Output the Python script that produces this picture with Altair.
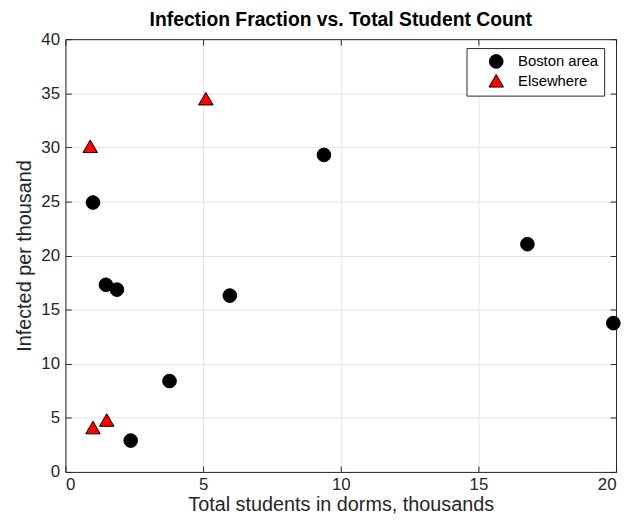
import altair as alt
import pandas as pd

boston_x = [1.0, 1.47, 1.87, 2.37, 3.78, 5.97, 9.39, 16.78, 19.9]
boston_y = [24.9, 17.3, 16.85, 2.9, 8.4, 16.3, 29.3, 21.05, 13.75]
else_x = [0.9, 5.1, 1.0, 1.5]
else_y = [30.1, 34.5, 4.1, 4.8]
groups = ["Boston area", "Elsewhere"]
x_ticks = [0, 5, 10, 15, 20]
y_ticks = [0, 5, 10, 15, 20, 25, 30, 35, 40]

df = pd.DataFrame({
    "x": boston_x + else_x,
    "y": boston_y + else_y,
    "g": [groups[0]] * len(boston_x) + [groups[1]] * len(else_x),
})

FONT = "Liberation Sans"
AX = "#262626"
xs = alt.Scale(domain=[0, 20], nice=False, zero=False)
ys = alt.Scale(domain=[0, 40], nice=False, zero=False)


def tick_axis(orient, vals, offset, ticks, domain):
    return alt.Axis(orient=orient, offset=offset, labels=False, grid=False, domain=domain,
                    domainColor=AX, ticks=ticks, tickSize=6, tickColor=AX, title=None,
                    values=vals)


main = alt.Chart(df).mark_point(filled=True, opacity=1, stroke="black", strokeWidth=1).encode(
    x=alt.X("x:Q", scale=xs, axis=alt.Axis(values=x_ticks, title="Total students in dorms, thousands",
                                           grid=True, ticks=False, domain=True, domainColor=AX,
                                           labelPadding=5, titlePadding=2)),
    y=alt.Y("y:Q", scale=ys, axis=alt.Axis(values=y_ticks, title="Infected per thousand",
                                           grid=True, ticks=False, domain=True, domainColor=AX,
                                           labelPadding=6, titlePadding=6)),
    color=alt.Color("g:N", scale=alt.Scale(domain=groups, range=["black", "#ff0000"]),
                    legend=alt.Legend(title=None, orient="none", legendX=405, legendY=9,
                                      fillColor="white", strokeColor=AX, padding=6,
                                      labelFont=FONT, labelFontSize=15, labelColor="black",
                                      symbolStrokeColor="black", symbolStrokeWidth=1,
                                      symbolSize=180, rowPadding=1, labelOffset=14,
                                      symbolOffset=16, labelLimit=200)),
    shape=alt.Shape("g:N", scale=alt.Scale(domain=groups, range=["circle", "triangle-up"])),
    size=alt.Size("g:N", scale=alt.Scale(domain=groups, range=[190, 215]), legend=None),
)

ticks_a = alt.Chart(df).mark_point(opacity=0).encode(
    x=alt.X("x:Q", scale=xs, axis=tick_axis("bottom", x_ticks, -6, True, False)),
    y=alt.Y("y:Q", scale=ys, axis=tick_axis("left", y_ticks, -6, True, False)),
)
ticks_b = alt.Chart(df).mark_point(opacity=0).encode(
    x=alt.X("x:Q", scale=xs, axis=tick_axis("top", x_ticks, -6, True, False)),
    y=alt.Y("y:Q", scale=ys, axis=tick_axis("right", y_ticks, -6, True, False)),
)
frame = alt.Chart(df).mark_point(opacity=0).encode(
    x=alt.X("x:Q", scale=xs, axis=tick_axis("top", x_ticks, 0, False, True)),
    y=alt.Y("y:Q", scale=ys, axis=tick_axis("right", y_ticks, 0, False, True)),
)

chart = alt.layer(ticks_a, ticks_b, frame, main).resolve_axis(
    x="independent", y="independent"
).properties(
    width=556, height=437,
    title=alt.TitleParams("Infection Fraction vs. Total Student Count", font=FONT, fontSize=19.5,
                          fontWeight="bold", color="black", anchor="middle", offset=0),
    autosize=alt.AutoSizeParams(type="none"),
    padding={"left": 58, "top": 29, "right": 6, "bottom": 40},
).configure_view(stroke=None).configure_axis(
    labelFont=FONT, labelFontSize=17, labelColor=AX, titleFont=FONT, titleFontSize=20,
    titleColor=AX, titleFontWeight="normal", gridColor="#e3e3e3", gridOpacity=1,
)

chart.save("out.html", embed_options={"renderer": "svg", "actions": False})
